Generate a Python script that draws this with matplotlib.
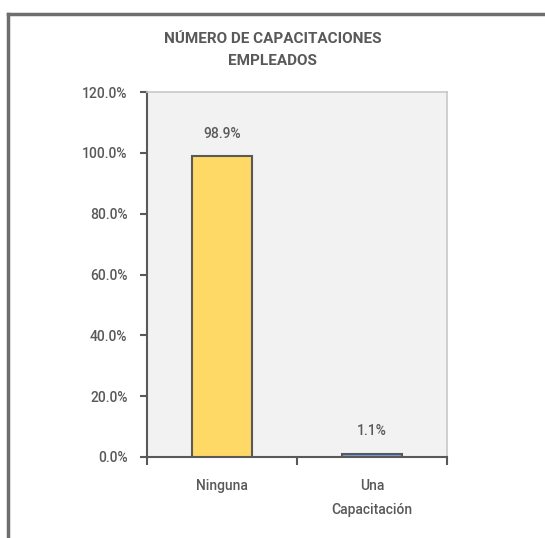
import matplotlib
matplotlib.use("Agg")
import matplotlib.pyplot as plt
from matplotlib.lines import Line2D

categories = ["Ninguna", "Una\nCapacitación"]
values = [98.9, 1.1]
value_labels = ["98.9%", "1.1%"]
bar_colors = ["#FFD966", "#6D9EEB"]
y_ticks = [0, 20, 40, 60, 80, 100, 120]
y_tick_labels = ["0.0%", "20.0%", "40.0%", "60.0%", "80.0%", "100.0%", "120.0%"]
title = "NÚMERO DE CAPACITACIONES\nEMPLEADOS"

plt.rcParams['font.family'] = ['Roboto', 'DejaVu Sans']
text_color = "#595959"

fig = plt.figure(figsize=(5.45, 5.38), dpi=100)
ax = fig.add_axes([147/545, 1-457/538, 300/545, 365/538])
ax.set_facecolor("#F2F2F2")

x = list(range(len(categories)))
ax.bar(x, values, width=0.4, color=bar_colors, edgecolor="#595959", linewidth=1.5, zorder=3)

for xi, v, lab in zip(x, values, value_labels):
    ax.annotate(lab, (xi, v), xytext=(0, 16), textcoords="offset points",
                ha="center", va="center", fontsize=10, color=text_color, fontweight="medium")

ax.set_xlim(-0.5, 1.5)
ax.set_ylim(0, 120)
ax.set_yticks(y_ticks)
ax.set_yticklabels(y_tick_labels, fontsize=10, color=text_color, fontweight="medium")
ax.tick_params(axis="y", length=5, width=1.5, color="#595959", pad=9)

ax.set_xticks([-0.5, 0.5, 1.5])
ax.set_xticklabels([])
ax.tick_params(axis="x", length=6, width=1.5, color="#595959")
ax.set_xticks(x, minor=True)
ax.set_xticklabels(categories, minor=True, fontsize=10, color=text_color,
                   fontweight="medium", linespacing=1.9)
ax.tick_params(axis="x", which="minor", length=0, pad=16)

for s in ["left", "bottom"]:
    ax.spines[s].set_color("#595959")
    ax.spines[s].set_linewidth(1.5)
for s in ["top", "right"]:
    ax.spines[s].set_color("#C8C8C8")
    ax.spines[s].set_linewidth(1.2)

fig.text(0.5, 1-50/538, title, ha="center", va="center", fontsize=11,
         color=text_color, fontweight="bold", linespacing=1.7)

# outer frame (top and left edges)
fig.add_artist(Line2D([8/545, 1.0], [1-14/538, 1-14/538], transform=fig.transFigure,
                      color="#6E6E6E", linewidth=2.5))
fig.add_artist(Line2D([8/545, 8/545], [0, 1-14/538], transform=fig.transFigure,
                      color="#6E6E6E", linewidth=2.5))

fig.savefig("out.png", dpi=100, facecolor="white")
